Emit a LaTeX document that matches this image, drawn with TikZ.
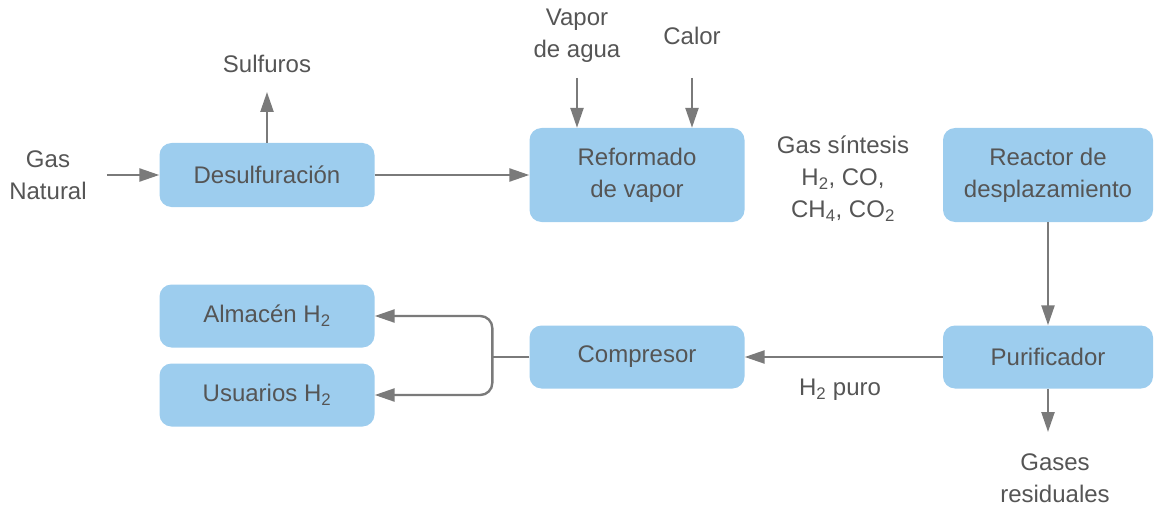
\documentclass[tikz,border=0pt]{standalone}
\usepackage{fontspec}
\setmainfont{Liberation Sans}
\usetikzlibrary{positioning,arrows.meta,calc}
\definecolor{boxblue}{HTML}{9DCDEE}
\definecolor{linegray}{HTML}{7A7A7A}
\definecolor{textgray}{HTML}{555555}
\newcommand{\lowsub}[1]{\textsubscript{#1}}
\tikzset{
  stage/.style={rectangle, rounded corners=12pt, fill=boxblue, draw=none,
    minimum width=215pt, align=center, text=textgray},
  lbl/.style={align=center, text=textgray, inner sep=2pt},
  flow/.style={draw=linegray, line width=2.4pt,
    -{Triangle[length=20pt,width=13pt]}},
  pipe/.style={draw=linegray, line width=2.4pt}
}
\begin{document}
\begin{tikzpicture}[x=1pt,y=-1pt,font=\fontsize{24}{32}\selectfont]
  \useasboundingbox (0,0) rectangle (1154,508);
  % process units
  \node[stage, minimum height=64pt] (desulf) at (267,175) {Desulfuración};
  \node[stage, minimum height=94pt] (reform) at (637,175) {Reformado\\de vapor};
  \node[stage, minimum height=94pt, minimum width=210pt] (reactor) at (1048,175) {Reactor de\\desplazamiento};
  \node[stage, minimum height=63pt, minimum width=210pt] (purif) at (1048,357) {Purificador};
  \node[stage, minimum height=63pt] (compr) at (637,357) {Compresor};
  \node[stage, minimum height=63pt] (almacen) at (267,316) {Almacén H\lowsub{2}};
  \node[stage, minimum height=63pt] (usuarios) at (267,395) {Usuarios H\lowsub{2}};
  % streams in and out
  \node[lbl] (gasnat) at (48,175) {Gas\\Natural};
  \node[lbl] (sulfuros) at (267,64) {Sulfuros};
  \node[lbl] (vapor) at (577,36) {Vapor\\de agua};
  \node[lbl] (calor) at (692,36) {Calor};
  \node[lbl] (sintesis) at (843,179) {Gas síntesis\\H\lowsub{2}, CO,\\CH\lowsub{4}, CO\lowsub{2}};
  \node[lbl] (puro) at (840,390) {H\lowsub{2} puro};
  \node[lbl] (residuales) at (1055,478) {Gases\\residuales};
  % connections
  \draw[flow] ([xshift=18pt]gasnat.east) -- (desulf.west);
  \draw[flow] (desulf.north) -- (desulf.north |- 0,92);
  \draw[flow] (desulf.east) -- (reform.west);
  \draw[flow] (vapor.south |- 0,78) -- (reform.north -| vapor.south);
  \draw[flow] (calor.south |- 0,78) -- (reform.north -| calor.south);
  \draw[flow] (reactor.south) -- (purif.north);
  \draw[flow] (purif.west) -- (compr.east);
  \draw[flow] (purif.south) -- (purif.south |- 0,432);
  \draw[pipe] (compr.west) -- ++(-37,0) coordinate (split);
  \draw[flow, rounded corners=12pt] (split) |- (almacen.east);
  \draw[flow, rounded corners=12pt] (split) |- (usuarios.east);
\end{tikzpicture}
\end{document}
